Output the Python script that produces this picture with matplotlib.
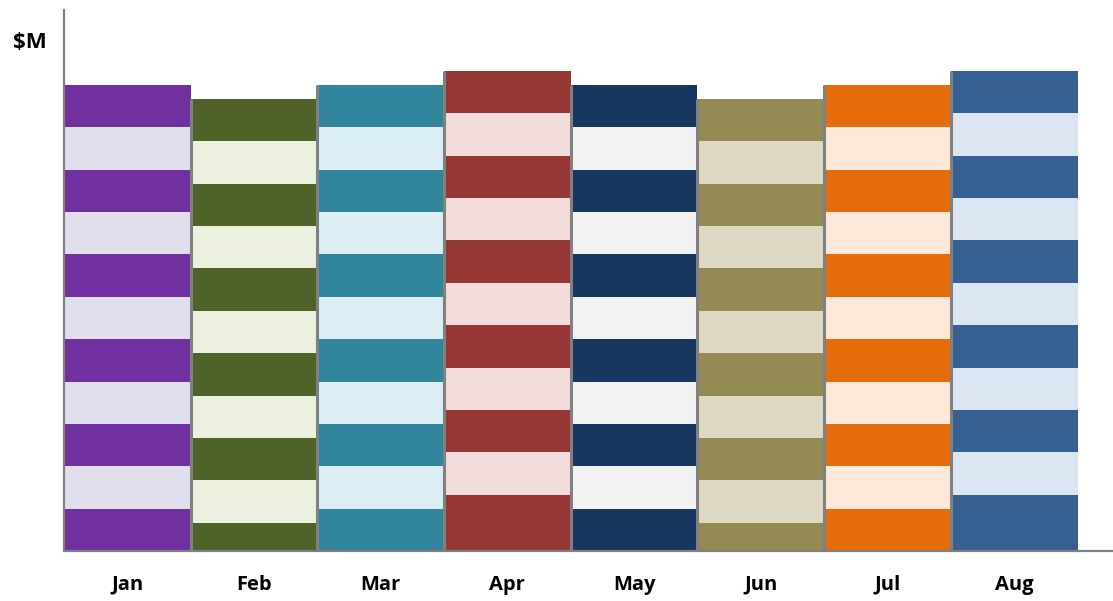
import matplotlib
matplotlib.use("Agg")
import matplotlib.pyplot as plt

months = ["Jan", "Feb", "Mar", "Apr", "May", "Jun", "Jul", "Aug"]
# each column: a base block plus ten equal bands stacked on top ($M)
base_values = [1.0, 0.67, 1.0, 1.33, 1.0, 0.67, 1.0, 1.33]
band_value = 1.0
band_count = 10
dark_colors = ["#7030A0", "#4F6228", "#31859C", "#953735",
               "#17375E", "#948A54", "#E46C0A", "#376092"]
light_colors = ["#E1DFEE", "#EBF1DE", "#DAEEF3", "#F2DCDB",
                "#F2F2F2", "#DDD9C4", "#FDE9D9", "#DCE6F2"]

plt.rcParams["font.family"] = ["Open Sans", "DejaVu Sans"]

W, H = 1113, 601
fig = plt.figure(figsize=(W / 100, H / 100), dpi=100)
ax = fig.add_axes([64 / W, 50 / H, (W - 64) / W, 541 / H])

x = list(range(len(months)))
for i in x:
    bottom = 0.0
    segments = [base_values[i]] + [band_value] * band_count
    for k, seg in enumerate(segments):
        color = dark_colors[i] if k % 2 == 0 else light_colors[i]
        ax.bar(i, seg, bottom=bottom, width=1.0, color=color,
               edgecolor="none", linewidth=0, zorder=2)
        bottom += seg
    if i > 0:
        ax.vlines(i - 0.5, 0, bottom, color="#808080", linewidth=2.2, zorder=3)

ax.set_xlim(-0.5, 7.78)
ax.set_ylim(0, 12.77)

for side in ("top", "right"):
    ax.spines[side].set_visible(False)
for side in ("left", "bottom"):
    ax.spines[side].set_color("#808080")
    ax.spines[side].set_linewidth(1.6)
    ax.spines[side].set_zorder(4)

ax.set_yticks([])
ax.set_xticks(x)
ax.set_xticklabels(months, fontsize=14.5, fontweight="bold")
ax.tick_params(axis="x", length=0, pad=17)

fig.text(30 / W, 1 - 42 / H, "$M", fontsize=16, fontweight="bold",
         ha="center", va="center")

fig.savefig("out.png", dpi=100)
